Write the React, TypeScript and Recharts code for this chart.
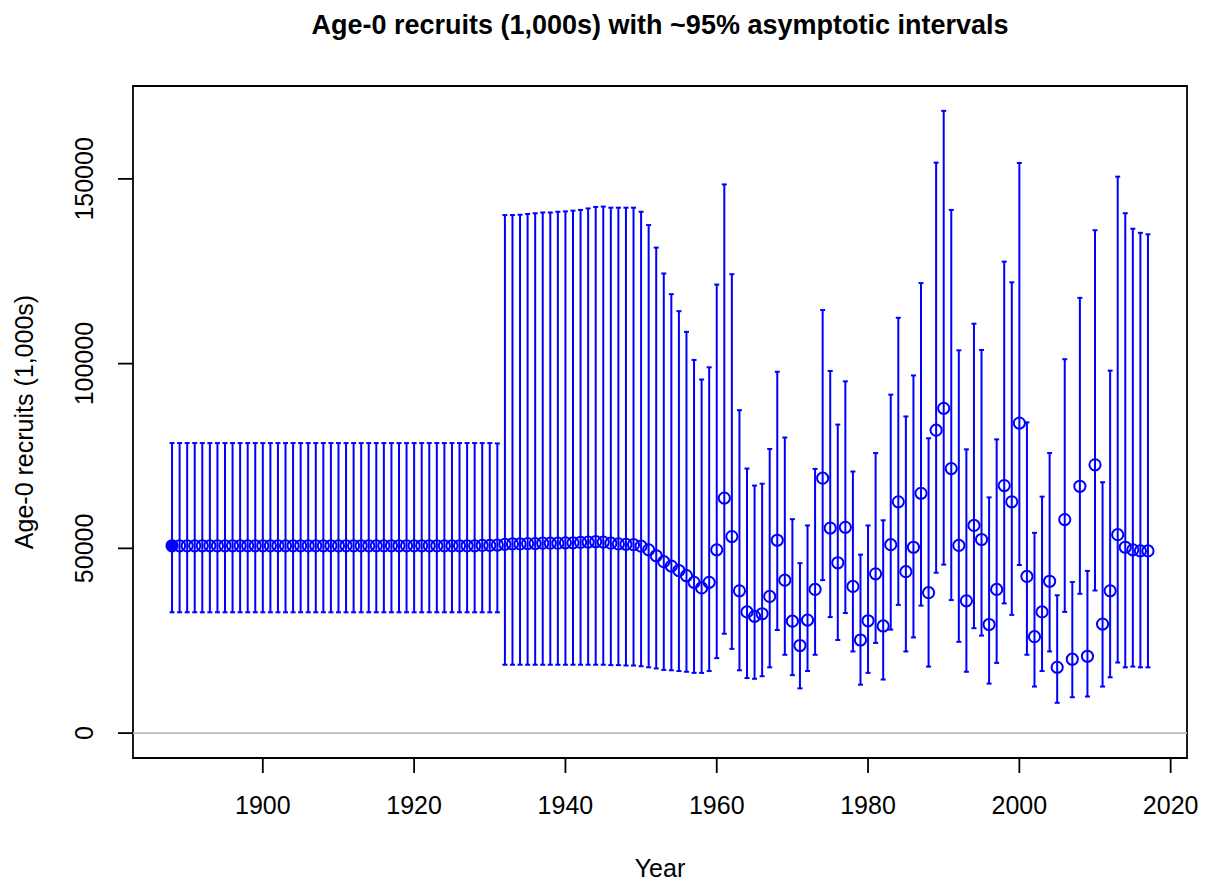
import {
  ComposedChart,
  Scatter,
  ErrorBar,
  XAxis,
  YAxis,
  ReferenceLine,
  ReferenceArea,
} from "recharts";

// years of the time series
const YEARS = [
  1888, 1889, 1890, 1891, 1892, 1893, 1894, 1895, 1896, 1897,
  1898, 1899, 1900, 1901, 1902, 1903, 1904, 1905, 1906, 1907,
  1908, 1909, 1910, 1911, 1912, 1913, 1914, 1915, 1916, 1917,
  1918, 1919, 1920, 1921, 1922, 1923, 1924, 1925, 1926, 1927,
  1928, 1929, 1930, 1931, 1932, 1933, 1934, 1935, 1936, 1937,
  1938, 1939, 1940, 1941, 1942, 1943, 1944, 1945, 1946, 1947,
  1948, 1949, 1950, 1951, 1952, 1953, 1954, 1955, 1956, 1957,
  1958, 1959, 1960, 1961, 1962, 1963, 1964, 1965, 1966, 1967,
  1968, 1969, 1970, 1971, 1972, 1973, 1974, 1975, 1976, 1977,
  1978, 1979, 1980, 1981, 1982, 1983, 1984, 1985, 1986, 1987,
  1988, 1989, 1990, 1991, 1992, 1993, 1994, 1995, 1996, 1997,
  1998, 1999, 2000, 2001, 2002, 2003, 2004, 2005, 2006, 2007,
  2008, 2009, 2010, 2011, 2012, 2013, 2014, 2015, 2016, 2017,
];

// age-0 recruits (1,000s), point estimates
const RECRUITS = [
  50700, 50700, 50700, 50700, 50700, 50700, 50700, 50700, 50700, 50700,
  50700, 50700, 50700, 50700, 50700, 50700, 50700, 50700, 50700, 50700,
  50700, 50700, 50700, 50700, 50700, 50700, 50700, 50700, 50700, 50700,
  50700, 50700, 50700, 50700, 50700, 50700, 50700, 50700, 50700, 50700,
  50700, 50800, 50800, 50900, 51100, 51200, 51200, 51300, 51300, 51400,
  51400, 51400, 51500, 51500, 51600, 51700, 51800, 51700, 51400, 51200,
  51100, 51000, 50600, 49600, 48000, 46400, 45200, 44000, 42600, 40800,
  39300, 40800, 49600, 63600, 53200, 38500, 32800, 31600, 32300, 37000,
  52200, 41400, 30300, 23700, 30600, 38900, 69000, 55500, 46100, 55700,
  39700, 25200, 30400, 43100, 29000, 51000, 62600, 43700, 50300, 64900,
  38000, 82000, 87900, 71600, 50800, 35800, 56200, 52400, 29400, 38900,
  67000, 62600, 83900, 42400, 26100, 32800, 41100, 17800, 57800, 20000,
  66800, 20800, 72600, 29500, 38500, 53700, 50300, 49600, 49300, 49300,
];

// upper ~95% bound
const UPPER = [
  78500, 78500, 78500, 78500, 78500, 78500, 78500, 78500, 78500, 78500,
  78500, 78500, 78500, 78500, 78500, 78500, 78500, 78500, 78500, 78500,
  78500, 78500, 78500, 78500, 78500, 78500, 78500, 78500, 78500, 78500,
  78500, 78500, 78500, 78500, 78500, 78500, 78500, 78500, 78500, 78500,
  78500, 78500, 78500, 78400, 140200, 140200, 140300, 140500, 140700, 140900,
  140900, 141100, 141200, 141400, 141600, 142000, 142400, 142500, 142200, 142200,
  142200, 142200, 141100, 137500, 131400, 124400, 118800, 114200, 108600, 101000,
  95700, 99000, 121400, 148500, 124200, 87400, 71600, 67000, 67500, 76900,
  97800, 80000, 57900, 46000, 56200, 71500, 114500, 98000, 83500, 95200,
  70800, 48300, 56200, 75800, 57600, 91600, 112400, 85700, 96800, 121800,
  79800, 154400, 168400, 141600, 103600, 76800, 110800, 103700, 63800, 79500,
  127600, 122000, 154300, 84100, 54200, 64000, 75800, 37300, 101200, 40900,
  117800, 43900, 136100, 67900, 98100, 150600, 140700, 136500, 135400, 135000,
];

// lower ~95% bound
const LOWER = [
  32700, 32700, 32700, 32700, 32700, 32700, 32700, 32700, 32700, 32700,
  32700, 32700, 32700, 32700, 32700, 32700, 32700, 32700, 32700, 32700,
  32700, 32700, 32700, 32700, 32700, 32700, 32700, 32700, 32700, 32700,
  32700, 32700, 32700, 32700, 32700, 32700, 32700, 32700, 32700, 32700,
  32700, 32700, 32700, 32700, 18500, 18500, 18500, 18500, 18500, 18500,
  18500, 18500, 18500, 18500, 18500, 18500, 18500, 18500, 18400, 18400,
  18300, 18300, 18100, 17800, 17500, 17100, 17000, 16800, 16600, 16300,
  16300, 16800, 20300, 26900, 22800, 17000, 14900, 14700, 15400, 17800,
  27900, 21200, 15700, 12100, 16800, 21200, 41400, 31400, 25200, 32500,
  22100, 13100, 16300, 24400, 14500, 28000, 34700, 22100, 25900, 34500,
  18000, 43400, 45600, 36000, 24700, 16600, 28400, 26400, 13400, 19000,
  35100, 32000, 45500, 21200, 12600, 16800, 22100, 8200, 32800, 9700,
  37700, 9900, 38600, 12600, 15100, 19100, 17800, 18000, 17800, 17800,
];

const X_TICKS = [1900, 1920, 1940, 1960, 1980, 2000, 2020];
const Y_TICKS = [0, 50000, 100000, 150000];

const BLUE = "#0000ff";
const FONT = "'Liberation Sans', Arial, sans-serif";

const rows = YEARS.map((year, i) => ({
  year,
  rec: RECRUITS[i],
  err: [RECRUITS[i] - LOWER[i], UPPER[i] - RECRUITS[i]],
}));

// R-style axis limits (4% padding)
const xr = YEARS[YEARS.length - 1] - YEARS[0];
const X_MIN = YEARS[0] - 0.04 * xr;
const X_MAX = YEARS[YEARS.length - 1] + 0.04 * xr;
const yTop = Math.max(...UPPER);
const Y_MIN = -0.04 * yTop;
const Y_MAX = yTop * 1.04;

const renderPoint = (p: any) => {
  const first = p.payload && p.payload.year === YEARS[0];
  return (
    <circle
      cx={p.cx}
      cy={p.cy}
      r={5.6}
      fill={first ? BLUE : "none"}
      stroke={BLUE}
      strokeWidth={2}
    />
  );
};

const XTick = ({ x, y, payload }: any) => (
  <text x={x} y={y} dy={41} textAnchor="middle" fontSize={25} fill="#000">
    {payload.value}
  </text>
);

const YTick = ({ x, y, payload }: any) => {
  const bx = x - 24.5;
  return (
    <text
      x={bx}
      y={y}
      transform={`rotate(-90 ${bx} ${y})`}
      textAnchor="middle"
      fontSize={25}
      fill="#000"
    >
      {payload.value}
    </text>
  );
};

export default function App() {
  return (
    <div
      style={{
        position: "absolute",
        left: 0,
        top: 0,
        width: 1205,
        height: 884,
        background: "#fff",
        fontFamily: FONT,
      }}
    >
      <ComposedChart
        width={1205}
        height={884}
        data={rows}
        margin={{ top: 86, right: 18, bottom: 0, left: 0 }}
      >
        <text
          x={660}
          y={34}
          textAnchor="middle"
          fontSize={27}
          fontWeight="bold"
          fill="#000"
        >
          Age-0 recruits (1,000s) with ~95% asymptotic intervals
        </text>
        <text
          x={33}
          y={422}
          transform="rotate(-90 33 422)"
          textAnchor="middle"
          fontSize={25}
          fill="#000"
        >
          Age-0 recruits (1,000s)
        </text>
        <text x={660} y={877} textAnchor="middle" fontSize={25} fill="#000">
          Year
        </text>
        <XAxis
          dataKey="year"
          type="number"
          domain={[X_MIN, X_MAX]}
          ticks={X_TICKS}
          interval={0}
          allowDataOverflow
          axisLine={false}
          tickLine={{ stroke: "#000", strokeWidth: 1.8 }}
          tickSize={15}
          tickMargin={0}
          height={126}
          tick={<XTick />}
        />
        <YAxis
          type="number"
          domain={[Y_MIN, Y_MAX]}
          ticks={Y_TICKS}
          interval={0}
          allowDataOverflow
          axisLine={false}
          tickLine={{ stroke: "#000", strokeWidth: 1.8 }}
          tickSize={15}
          tickMargin={0}
          width={133}
          tick={<YTick />}
        />
        <ReferenceLine y={0} stroke="#bebebe" strokeWidth={1.8} />
        <Scatter
          dataKey="rec"
          isAnimationActive={false}
          shape={renderPoint}
        >
          <ErrorBar
            dataKey="err"
            direction="y"
            width={2.5}
            stroke={BLUE}
            strokeWidth={2}
            isAnimationActive={false}
          />
        </Scatter>
        <ReferenceArea
          x1={X_MIN}
          x2={X_MAX}
          y1={Y_MIN}
          y2={Y_MAX}
          fill="none"
          stroke="#000"
          strokeWidth={1.8}
          ifOverflow="visible"
        />
      </ComposedChart>
    </div>
  );
}
